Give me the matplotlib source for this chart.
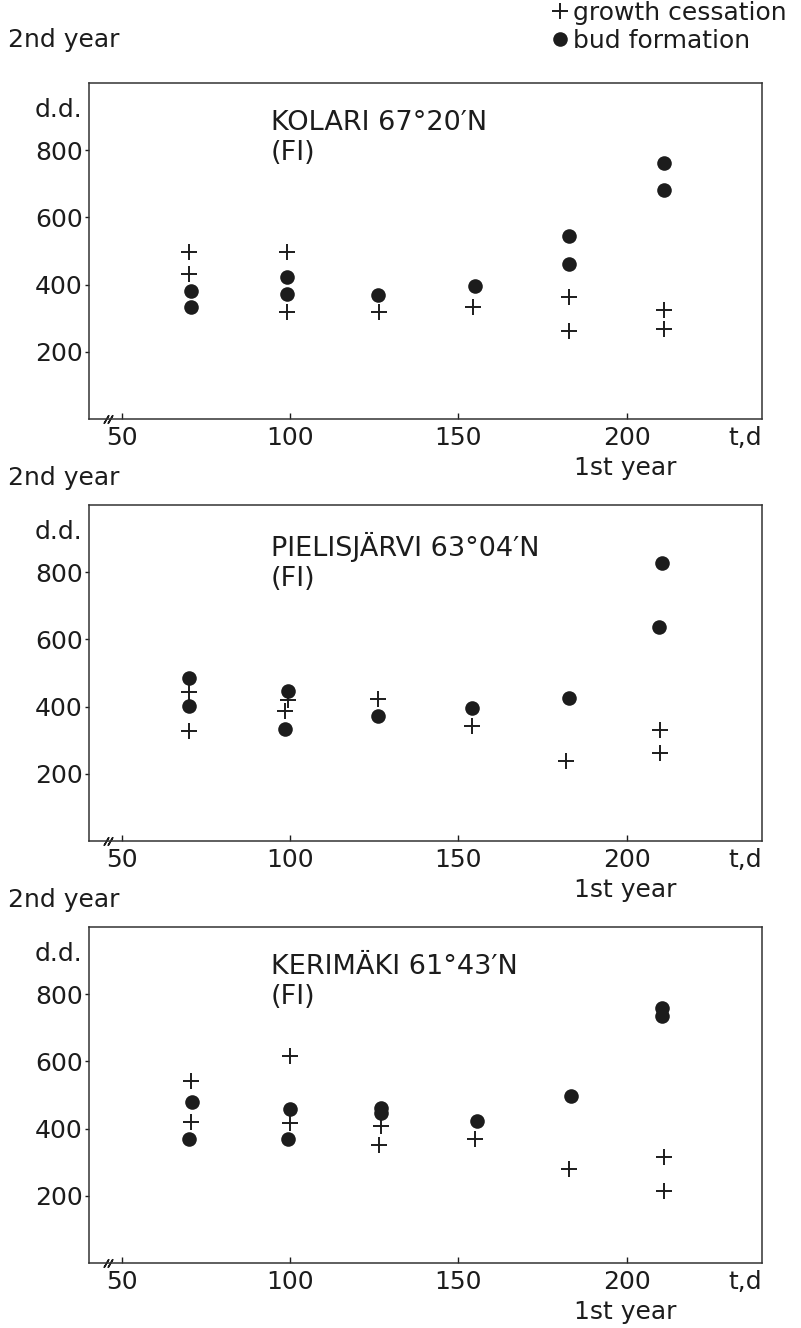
import matplotlib.pyplot as plt

plt.rcParams['font.family'] = 'DejaVu Sans'

# degree-days in the 2nd year vs. day of 1st-year treatment
sites = ["KOLARI 67°20′N\n(FI)", "PIELISJÄRVI 63°04′N\n(FI)", "KERIMÄKI 61°43′N\n(FI)"]

kolari_cess_day = [70, 70, 99, 99, 126.5, 154.5, 183, 183, 211, 211]
kolari_cess_dd = [496, 431, 496, 319, 319, 333, 362, 262, 323, 267]
kolari_bud_day = [70.5, 70.5, 99, 99, 126, 155, 183, 183, 211, 211]
kolari_bud_dd = [382, 334, 424, 372, 370, 395, 544, 461, 763, 682]

pieli_cess_day = [70, 70, 99.5, 98.5, 126, 154, 182, 210, 210]
pieli_cess_dd = [444, 326, 420, 387, 423, 343, 237, 330, 261]
pieli_bud_day = [70, 70, 99.5, 98.5, 126, 154, 183, 210.5, 209.5]
pieli_bud_dd = [486, 402, 447, 333, 372, 395, 426, 828, 637]

keri_cess_day = [70.5, 70.5, 100, 100, 127, 126.5, 155, 183, 211, 211]
keri_cess_dd = [541, 419, 615, 417, 408, 350, 370, 279, 316, 215]
keri_bud_day = [71, 70, 100, 99.5, 127, 127, 155.5, 183.5, 210.5, 210.5]
keri_bud_dd = [479, 370, 457, 370, 462, 447, 424, 497, 760, 734]

cess = [(kolari_cess_day, kolari_cess_dd), (pieli_cess_day, pieli_cess_dd), (keri_cess_day, keri_cess_dd)]
bud = [(kolari_bud_day, kolari_bud_dd), (pieli_bud_day, pieli_bud_dd), (keri_bud_day, keri_bud_dd)]

x_ticks = [50, 100, 150, 200]
y_ticks = [200, 400, 600, 800]

W, H = 801, 1328
fs = 18
ink = '#1c1c1c'

fig = plt.figure(figsize=(W / 100, H / 100), dpi=100)

# panel boxes in pixels (top, bottom) and the "2nd year" line above each
boxes = [(83, 419), (505, 841), (927, 1263)]
year_y = [40, 478, 900]
left, right = 89, 762

handles = None
for i in range(3):
    top, bot = boxes[i]
    ax = fig.add_axes([left / W, 1 - bot / H, (right - left) / W, (bot - top) / H])
    h1, = ax.plot(*cess[i], ls='none', marker='+', ms=11, mew=1.4, color=ink)
    h2, = ax.plot(*bud[i], ls='none', marker='o', ms=10.5, color=ink, mec='none')
    if handles is None:
        handles = [h1, h2]

    ax.set_xlim(40.3, 240.2)
    ax.set_ylim(0, 1000)
    ax.set_xticks(x_ticks)
    ax.set_yticks(y_ticks)
    ax.tick_params(axis='x', direction='in', length=4, width=1, pad=5, labelsize=fs, colors=ink)
    ax.tick_params(axis='y', direction='out', length=3, width=1, pad=1.5, labelsize=fs, colors=ink)
    for s in ax.spines.values():
        s.set_linewidth(1.1)
        s.set_color('#333333')

    # axis break marks near the origin
    ax.plot([45.3, 46.5], [0, 0], ls='none', marker=(2, 2, -30), ms=7, mew=1.1,
            color=ink, clip_on=False)

    ax.text(0.27, 0.92, sites[i], transform=ax.transAxes, ha='left', va='top',
            fontsize=19.5, linespacing=1.2, color=ink)
    ax.annotate('d.d.', xy=(0, 920), xycoords=ax.get_yaxis_transform(),
                xytext=(-4.5, 0), textcoords='offset points',
                ha='right', va='center', fontsize=fs, color=ink)
    ax.annotate('t,d', xy=(1, 0), xycoords='axes fraction',
                xytext=(0, -5), textcoords='offset points',
                ha='right', va='top', fontsize=fs, color=ink)
    ax.annotate('1st year', xy=(199.5, 0), xycoords=ax.get_xaxis_transform(),
                xytext=(0, -35), textcoords='offset points',
                ha='center', va='center', fontsize=fs, color=ink)
    fig.text(8 / W, 1 - year_y[i] / H, '2nd year', ha='left', va='center',
             fontsize=fs, color=ink)

fig.legend(handles, ['growth cessation', 'bud formation'], loc='upper left',
           bbox_to_anchor=(552 / W, 1 - 1 / H), frameon=False, fontsize=fs,
           handlelength=0.6, handletextpad=0.25, labelspacing=0.15,
           borderpad=0, borderaxespad=0, numpoints=1, labelcolor=ink)

fig.savefig('out.png', dpi=100)
